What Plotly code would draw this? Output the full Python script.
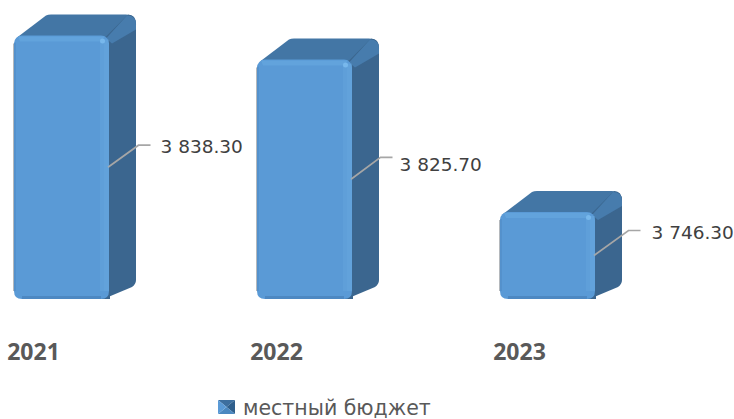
import plotly.graph_objects as go

years = ["2021", "2022", "2023"]
values = [3838.30, 3825.70, 3746.30]
labels = ["3 838.30", "3 825.70", "3 746.30"]
series_name = "местный бюджет"
label_gap = [99, 95, 104]
leader_end = [89, 88, 93]
leader_rise = [22, 22, 25]
label_rise = [19, 13, 21]

W, H = 734, 419
PLOT_BOTTOM = 299
BASE = 3701.0
PXY = 1.92
PXX = 243.0
CENTER0 = 61.5
BAR_W = 95
DX, DY = 27, 21
positions = list(range(len(years)))

FRONT = "#5a9ad6"
TOP = "#4376a5"
SIDE = "#3b668f"

def X(i, px):
    return i + px / PXX

def Y(v, px):
    return v + px / PXY

shapes = []

def path(i, v, pts, color, layer="below"):
    d = ""
    for p in pts:
        if p[0] == "Q":
            d += f" Q{X(i,p[1]):.5f},{Y(v,p[2]):.4f} {X(i,p[3]):.5f},{Y(v,p[4]):.4f}"
        else:
            d += f" {p[0]}{X(i,p[1]):.5f},{Y(v,p[2]):.4f}"
    shapes.append(dict(type="path", path=d.strip() + " Z", xref="x", yref="y",
                       fillcolor=color, line=dict(width=0), layer=layer))

hw = BAR_W / 2
for i, v in zip(positions, values):
    h = (v - BASE) * PXY
    # top face (v reference = front top edge)
    path(i, v, [("M", -hw + 3, -2), ("L", -hw + DX + 5, DY - 1), ("Q", -hw + DX + 7, DY, -hw + DX + 10, DY),
                ("L", hw + DX - 10, DY), ("Q", hw + DX, DY, hw + DX, DY - 10),
                ("L", hw, -4)], TOP)
    # side face
    path(i, v, [("M", hw - 4, -2), ("L", hw + DX - 8, DY), ("Q", hw + DX, DY, hw + DX, DY - 10),
                ("L", hw + DX, -h + DY - 2), ("Q", hw + DX, -h + DY - 6, hw + DX - 4, -h + DY - 9),
                ("L", hw - 8, -h - 1), ("L", hw - 8, -h + 8)], SIDE)
    # lighter ridge between top and side
    path(i, v, [("M", hw - 3, -3), ("L", hw + DX - 9, DY - 1), ("Q", hw + DX, DY - 1, hw + DX, DY - 10),
                ("L", hw + DX, DY - 15), ("L", hw + 3, -8)], "#477cad")
    # thin grey edge left of the front
    path(i, v, [("M", -hw - 1, -8), ("L", -hw, -8), ("L", -hw, -h + 8), ("L", -hw - 1, -h + 8)], "#b4b8bc")
    # bevel bands on the front
    path(i, v, [("M", hw - 9, -4), ("L", hw, -4), ("L", hw, -h + 8), ("L", hw - 9, -h + 8)],
         "rgba(125,190,240,0.14)", "above")
    path(i, v, [("M", hw - 5, -4), ("L", hw, -4), ("L", hw, -h + 8), ("L", hw - 5, -h + 8)],
         "rgba(125,190,240,0.12)", "above")
    path(i, v, [("M", -hw + 4, -1), ("L", hw - 4, -1), ("L", hw - 9, -6), ("L", -hw + 6, -6)],
         "rgba(125,190,240,0.25)", "above")
    path(i, v, [("M", -hw + 8, -h), ("L", hw - 8, -h), ("L", hw - 8, -h + 3), ("L", -hw + 8, -h + 3)],
         "rgba(40,85,135,0.25)", "above")
    path(i, v, [("M", -hw, -7), ("L", -hw + 2, -7), ("L", -hw + 2, -h + 8), ("L", -hw, -h + 8)],
         "rgba(40,85,135,0.12)", "above")
    # rounded bottom corners of the front
    path(i, v, [("M", -hw - 1, -h + 8), ("L", -hw, -h + 8), ("Q", -hw, -h, -hw + 8, -h),
                ("L", -hw + 8, -h - 1), ("L", -hw - 1, -h - 1)], "#ffffff", "above")
    path(i, v, [("M", hw + 1, -h + 8), ("L", hw, -h + 8), ("Q", hw, -h, hw - 8, -h),
                ("L", hw - 8, -h - 1), ("L", hw + 1, -h - 1)], SIDE, "above")
    # highlight spot
    shapes.append(dict(type="circle", xref="x", yref="y", layer="above",
                       x0=X(i, hw - 9), x1=X(i, hw - 4), y0=Y(v, -8), y1=Y(v, -3),
                       fillcolor="#78b8ec", line=dict(width=0)))

# leader lines, anchored at mid height of each bar
lx, ly, tx, ty = [], [], [], []
for i, v, gap, end, rise, trise in zip(positions, values, label_gap, leader_end, leader_rise, label_rise):
    mid = (v + BASE) / 2
    lx += [X(i, hw - 1), X(i, end - 12), X(i, end), None]
    ly += [mid, Y(mid, rise), Y(mid, rise), None]
    tx.append(X(i, gap))
    ty.append(Y(mid, trise))

fig = go.Figure()
fig.add_trace(go.Bar(x=positions, y=values, width=BAR_W / PXX, name=series_name,
                     marker=dict(color=FRONT, cornerradius=8, line=dict(width=0)),
                     showlegend=False))
fig.add_trace(go.Scatter(x=lx, y=ly, mode="lines", line=dict(color="#a6a6a6", width=1.7),
                         showlegend=False, hoverinfo="skip"))
fig.add_trace(go.Scatter(x=tx, y=ty, mode="text", text=labels, textposition="middle right",
                         textfont=dict(family="DejaVu Sans", size=18.5, color="#404040"),
                         showlegend=False, cliponaxis=False, hoverinfo="skip"))
# legend entry whose swatch is the shaded square drawn below
fig.add_trace(go.Scatter(x=[None], y=[None], mode="markers", name=series_name,
                         marker=dict(color="rgba(0,0,0,0)", size=1), showlegend=True))

sx0, sx1, sy0, sy1 = 218, 235, 400, 414
def pxp(x, y):
    return f"{x / W:.5f},{(PLOT_BOTTOM - y) / PLOT_BOTTOM:.5f}"
cx, cy = (sx0 + sx1) / 2, (sy0 + sy1) / 2
for a, b, col in [((sx0, sy0), (sx1, sy0), "#3d6f9f"), ((sx1, sy0), (sx1, sy1), "#2f5f8c"),
                  ((sx1, sy1), (sx0, sy1), "#4b88c0"), ((sx0, sy1), (sx0, sy0), "#5a9ad6")]:
    shapes.append(dict(type="path", xref="paper", yref="paper", layer="above",
                       path=f"M{pxp(*a)} L{pxp(*b)} L{pxp(cx, cy)} Z",
                       fillcolor=col, line=dict(width=0)))

fig.update_layout(
    width=W, height=H, autosize=False,
    margin=dict(l=0, r=0, t=0, b=H - PLOT_BOTTOM, pad=0, autoexpand=False),
    paper_bgcolor="white", plot_bgcolor="white",
    showlegend=True,
    legend=dict(x=203 / W, y=(PLOT_BOTTOM - 407) / PLOT_BOTTOM, xanchor="left", yanchor="middle",
                bgcolor="rgba(0,0,0,0)",
                font=dict(family="DejaVu Sans", size=20.5, color="#595959")),
    shapes=shapes,
    xaxis=dict(range=[-CENTER0 / PXX, (W - CENTER0) / PXX], automargin=False,
               tickmode="array", tickvals=[p - 28 / PXX for p in positions], ticktext=years,
               ticks="outside", ticklen=32, tickcolor="rgba(0,0,0,0)",
               tickfont=dict(family="Open Sans", size=23, color="#595959", weight=700),
               showgrid=False, zeroline=False, showline=False, fixedrange=True),
    yaxis=dict(range=[BASE, BASE + PLOT_BOTTOM / PXY], visible=False, fixedrange=True),
)
fig.write_html("out.html", post_script="document.body.style.margin='0';",
               config={"displayModeBar": False})
